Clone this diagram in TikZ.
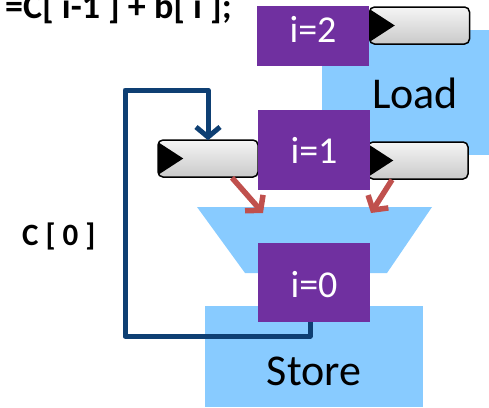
\documentclass[tikz,border=0pt]{standalone}
\usepackage{fontspec}
\setmainfont{Carlito}
\usetikzlibrary{arrows.meta}

\definecolor{iterpurple}{HTML}{7030A0}
\definecolor{stageblue}{HTML}{88CBFF}
\definecolor{loopblue}{HTML}{0E3F73}
\definecolor{flowred}{HTML}{C0504D}

\tikzset{
  stagebox/.style={fill=stageblue, draw=none, inner sep=0pt},
  iterbox/.style={fill=iterpurple, draw=none, text=white, inner sep=0pt,
    minimum width=112pt, font=\fontsize{38}{44}\selectfont},
  regbox/.style={draw=black, line width=1.5pt, rounded corners=5pt,
    top color=gray!8, bottom color=gray!42, minimum width=100pt,
    minimum height=37pt, inner sep=0pt},
  regmark/.style={fill=black},
  flowarrow/.style={draw=flowred, line width=5.5pt,
    -{Straight Barb[length=10pt, width=24pt, line width=5.5pt]}},
  feedback/.style={draw=loopblue, line width=5pt, line join=round,
    -{Straight Barb[length=10pt, width=24pt, line width=5pt]}},
  labeltext/.style={font=\fontsize{44}{52}\selectfont, inner sep=0pt},
  codetext/.style={font=\bfseries\fontsize{36}{42}\selectfont, inner sep=0pt},
}

\begin{document}
\begin{tikzpicture}[x=1pt, y=-1pt]
\useasboundingbox (0,0) rectangle (489,407);

% memory stages
\fill[stageblue] (322,30) rectangle (489,155);
\fill[stageblue] (205,306) rectangle (423,407);
\node[labeltext, anchor=base] (load) at (415,108) {Load};
\node[labeltext, anchor=base] (store) at (314,385) {Store};

% adder
\fill[stageblue] (197,207) -- (432,207) -- (387,273) -- (245,273) -- cycle;
\coordinate (addL) at (263,213);
\coordinate (addR) at (371,213);

% pipeline registers
\node[regbox] (regT) at (419.5,25.5) {};
\node[regbox] (regL) at (208,158.5) {};
\node[regbox] (regR) at (418,160.5) {};
\foreach \r in {regT, regL, regR} {
  \fill[regmark] ([shift={(1,3)}]\r.north west) -- ([xshift=26pt]\r.west)
    -- ([shift={(1,-3)}]\r.south west) -- cycle;
}

% data flowing into the adder
\draw[flowarrow] ([xshift=24pt]regL.south) -- (addL);
\draw[flowarrow] ([xshift=-26pt]regR.south) -- (addR);

% iterations in flight
\node[iterbox, minimum height=60pt] (i2) at (313,36) {};
\node[iterbox, minimum height=80pt] (i1) at (314,150) {};
\node[iterbox, minimum height=79pt] (i0) at (314,282.5) {};
\node[text=white, font=\fontsize{38}{44}\selectfont, anchor=base, inner sep=0pt] at (313,42) {i=2};
\node[text=white, font=\fontsize{38}{44}\selectfont, anchor=base, inner sep=0pt] at (314,163) {i=1};
\node[text=white, font=\fontsize{38}{44}\selectfont, anchor=base, inner sep=0pt] at (314,297) {i=0};

% loop-carried value
\draw[feedback] ([xshift=-4pt]i0.south) -- ++(0,14) -| (125,90) -| ([yshift=-1pt]regL.north);

% labels
\node[codetext, anchor=base east] (code) at (232,18) {=C[ i-1 ] + b[ i ];};
\node[font=\bfseries\fontsize{31}{36}\selectfont, anchor=base west, inner sep=0pt] (c0) at (22,245) {C [ 0 ]};
\end{tikzpicture}
\end{document}
